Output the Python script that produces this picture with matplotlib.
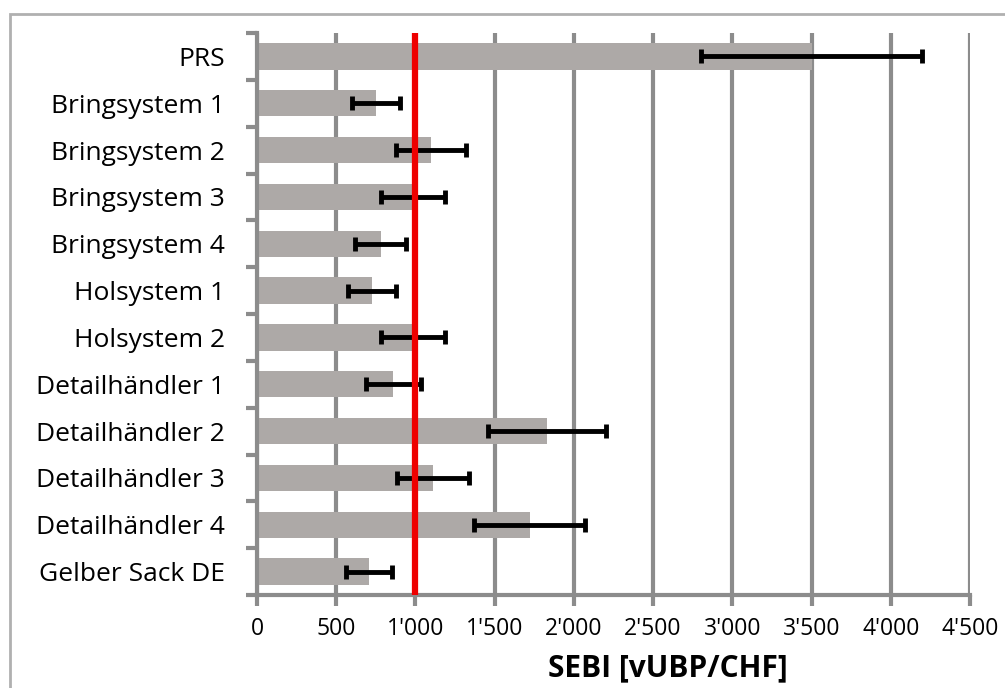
import matplotlib
matplotlib.use("Agg")
import matplotlib.pyplot as plt
from matplotlib.patches import Rectangle
from matplotlib.ticker import FuncFormatter, FixedLocator

plt.rcParams["font.family"] = ["Open Sans", "DejaVu Sans"]

# Daten (SEBI-Werte und Fehler)
kategorien = [
    "PRS",
    "Bringsystem 1",
    "Bringsystem 2",
    "Bringsystem 3",
    "Bringsystem 4",
    "Holsystem 1",
    "Holsystem 2",
    "Detailhändler 1",
    "Detailhändler 2",
    "Detailhändler 3",
    "Detailhändler 4",
    "Gelber Sack DE",
]
werte = [3500, 750, 1100, 985, 780, 725, 985, 860, 1830, 1110, 1720, 705]
fehler = [700, 150, 220, 200, 160, 150, 200, 175, 370, 225, 350, 145]
grenzwert = 1000
xticks = [0, 500, 1000, 1500, 2000, 2500, 3000, 3500, 4000, 4500]

fig = plt.figure(figsize=(10.05, 6.88), dpi=100)
ax = fig.add_axes([257 / 1005, 1 - 595 / 688, (970 - 257) / 1005, (595 - 33) / 688])

pos = list(range(len(kategorien)))
grau = "#8c8c8c"

ax.barh(pos, werte, height=0.56, color="#ada9a7", zorder=2)
ax.errorbar(werte, pos, xerr=fehler, fmt="none", ecolor="black",
            elinewidth=3.5, capsize=5, capthick=3.5, zorder=3)
ax.axvline(grenzwert, color="#ee0000", linewidth=4.5, zorder=4)

ax.set_xlim(0, 4500)
ax.set_ylim(len(kategorien) - 0.5, -0.5)
ax.xaxis.set_major_locator(FixedLocator(xticks))
ax.xaxis.set_major_formatter(FuncFormatter(lambda v, p: f"{int(v):,}".replace(",", "'")))
ax.grid(axis="x", color=grau, linewidth=3, zorder=1)

# Kategorie-Beschriftungen und Striche zwischen den Kategorien
ax.set_yticks(pos)
ax.set_yticklabels(kategorien)
ax.set_yticks([p - 0.5 for p in pos] + [len(pos) - 0.5], minor=True)
ax.tick_params(axis="y", which="major", length=0, pad=23, labelsize=19)
ax.tick_params(axis="y", which="minor", length=8, width=3, color=grau)
ax.tick_params(axis="x", length=8, width=3, color=grau, pad=8, labelsize=16.5)

for s in ["top", "right"]:
    ax.spines[s].set_visible(False)
for s in ["left", "bottom"]:
    ax.spines[s].set_color(grau)
    ax.spines[s].set_linewidth(3)

ax.set_xlabel("SEBI [vUBP/CHF]", fontsize=21.5, fontweight="bold")
ax.xaxis.set_label_coords((668 - 257) / 713, -(668 - 595) / 562, transform=ax.transAxes)
ax.xaxis.label.set_va("center")

# Rahmen des Diagrammbereichs
fig.patches.append(Rectangle((10 / 1005, -0.1), 1.2, 1.1 - 14 / 688,
                             transform=fig.transFigure, fill=False,
                             edgecolor="#b0b0b0", linewidth=2))

fig.savefig("out.png", dpi=100)
